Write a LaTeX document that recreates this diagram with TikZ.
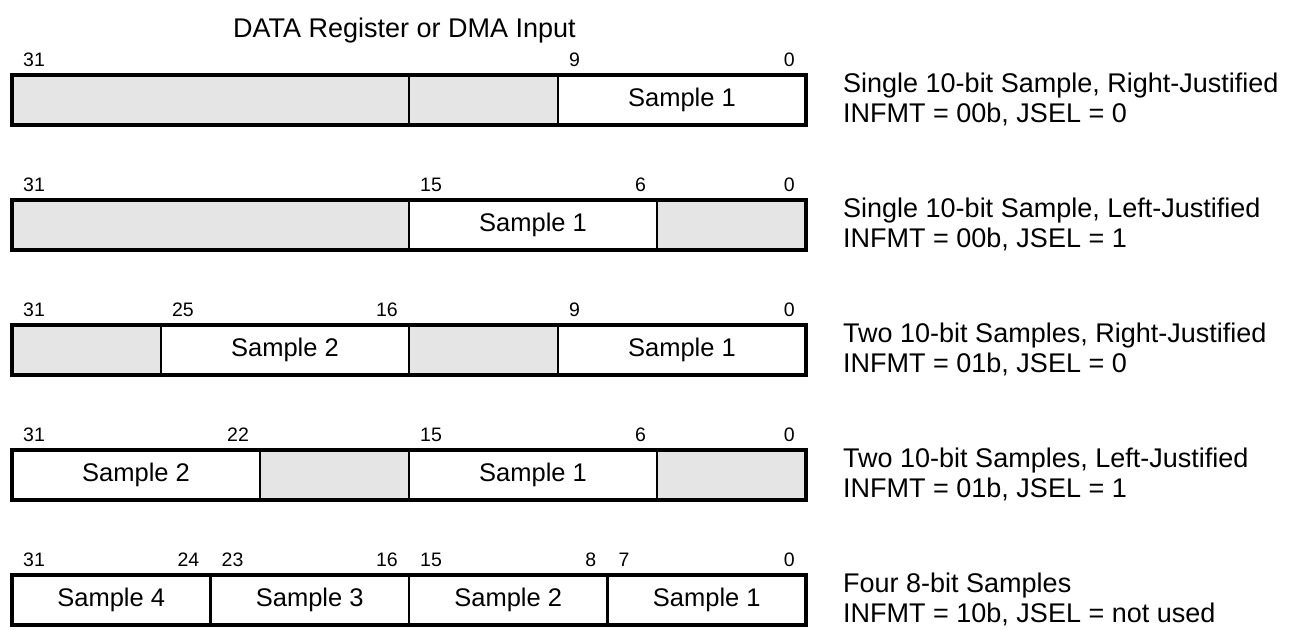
\documentclass[tikz,border=0pt]{standalone}
\usepackage{fontspec}
\setmainfont{Liberation Sans}
\definecolor{rsv}{HTML}{E5E5E5}
\newcommand{\bigtxt}{\fontsize{25.5}{30}\selectfont}
\newcommand{\desctxtfont}{\fontsize{27}{30}\selectfont}
\newcommand{\smtxt}{\fontsize{19.5}{22}\selectfont}
\newcommand{\fld}[6]{%
  \pgfmathsetmacro{\fldx}{12+(31-#3)*24.8125}%
  \pgfmathsetmacro{\fldw}{(#3-#4+1)*24.8125}%
  \node[field,#5,minimum width=\fldw pt,anchor=north west] (#1) at (\fldx,#2) {#6};%
}
\newcommand{\hib}[3]{\node[bitlbl,anchor=base west] (#1) at ([xshift=11pt,yshift=8.5pt]#2.north west) {#3};}
\newcommand{\lob}[3]{\node[bitlbl,anchor=base east] (#1) at ([xshift=-11pt,yshift=8.5pt]#2.north east) {#3};}
\newcommand{\desc}[4]{%
  \node[desctxt,anchor=base west] (#1a) at (843,#2+17) {#3};%
  \node[desctxt,anchor=base west] (#1b) at (843,#2+47) {#4};%
}
\tikzset{
  field/.style={draw,line width=2.5pt,minimum height=50pt,inner sep=0pt,outer sep=0pt,font=\bigtxt},
  res/.style={fill=rsv},
  smp/.style={fill=white},
  outer/.style={draw,line width=3.2pt,line join=miter},
  bitlbl/.style={inner sep=0pt,font=\smtxt},
  desctxt/.style={inner sep=0pt,font=\desctxtfont},
}
\begin{document}
\begin{tikzpicture}[x=1pt,y=-1pt]
\useasboundingbox (0,0) rectangle (1298,629);
\node[desctxt,anchor=base west] (title) at (233,37) {DATA Register or DMA Input};
% Row 1
\fld{ra1}{75}{31}{16}{res}{}
\fld{ra2}{75}{15}{10}{res}{}
\fld{ra3}{75}{9}{0}{smp}{Sample 1}
\draw[outer] (ra1.north west) rectangle (ra3.south east);
\hib{la31}{ra1}{31}
\hib{la9}{ra3}{9}
\lob{la0}{ra3}{0}
\desc{da}{75}{Single 10-bit Sample, Right-Justified}{INFMT = 00b, JSEL = 0}
% Row 2
\fld{rb1}{200}{31}{16}{res}{}
\fld{rb2}{200}{15}{6}{smp}{Sample 1}
\fld{rb3}{200}{5}{0}{res}{}
\draw[outer] (rb1.north west) rectangle (rb3.south east);
\hib{lb31}{rb1}{31}
\hib{lb15}{rb2}{15}
\lob{lb6}{rb2}{6}
\lob{lb0}{rb3}{0}
\desc{db}{200}{Single 10-bit Sample, Left-Justified}{INFMT = 00b, JSEL = 1}
% Row 3
\fld{rc1}{325}{31}{26}{res}{}
\fld{rc2}{325}{25}{16}{smp}{Sample 2}
\fld{rc3}{325}{15}{10}{res}{}
\fld{rc4}{325}{9}{0}{smp}{Sample 1}
\draw[outer] (rc1.north west) rectangle (rc4.south east);
\hib{lc31}{rc1}{31}
\hib{lc25}{rc2}{25}
\lob{lc16}{rc2}{16}
\hib{lc9}{rc4}{9}
\lob{lc0}{rc4}{0}
\desc{dc}{325}{Two 10-bit Samples, Right-Justified}{INFMT = 01b, JSEL = 0}
% Row 4
\fld{rd1}{450}{31}{22}{smp}{Sample 2}
\fld{rd2}{450}{21}{16}{res}{}
\fld{rd3}{450}{15}{6}{smp}{Sample 1}
\fld{rd4}{450}{5}{0}{res}{}
\draw[outer] (rd1.north west) rectangle (rd4.south east);
\hib{ld31}{rd1}{31}
\lob{ld22}{rd1}{22}
\hib{ld15}{rd3}{15}
\lob{ld6}{rd3}{6}
\lob{ld0}{rd4}{0}
\desc{dd}{450}{Two 10-bit Samples, Left-Justified}{INFMT = 01b, JSEL = 1}
% Row 5
\fld{re1}{575}{31}{24}{smp}{Sample 4}
\fld{re2}{575}{23}{16}{smp}{Sample 3}
\fld{re3}{575}{15}{8}{smp}{Sample 2}
\fld{re4}{575}{7}{0}{smp}{Sample 1}
\draw[outer] (re1.north west) rectangle (re4.south east);
\hib{le31}{re1}{31}
\lob{le24}{re1}{24}
\hib{le23}{re2}{23}
\lob{le16}{re2}{16}
\hib{le15}{re3}{15}
\lob{le8}{re3}{8}
\hib{le7}{re4}{7}
\lob{le0}{re4}{0}
\desc{de}{575}{Four 8-bit Samples}{INFMT = 10b, JSEL = not used}
\end{tikzpicture}
\end{document}
